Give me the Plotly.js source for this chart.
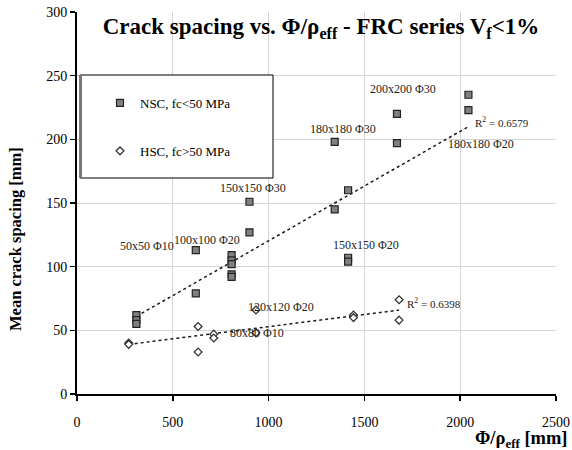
<!DOCTYPE html>
<html>
<head>
<meta charset="utf-8">
<script src="https://cdn.plot.ly/plotly-3.0.1.min.js"></script>
<style>
  html, body { margin: 0; padding: 0; background: #fff; }
  #chart { width: 572px; height: 450px; }
</style>
</head>
<body>
<div id="chart"></div>
<script>
// Normal-strength concrete specimens (fc < 50 MPa)
const nscX = [310, 310, 310, 620, 620, 807, 807, 807, 807, 807, 900, 900, 1345, 1345, 1415, 1415, 1415, 1670, 1670, 2043, 2043];
const nscY = [62, 58, 55, 113, 79, 109, 105, 102, 94, 92, 151, 127, 198, 145, 160, 107, 104, 220, 197, 235, 223];

// High-strength concrete specimens (fc > 50 MPa)
const hscX = [270, 270, 632, 632, 714, 714, 934, 934, 1443, 1443, 1681, 1681];
const hscY = [40, 39, 53, 33, 47, 44, 66, 48, 62, 60, 74, 58];

// Linear trend coefficients (intercept, slope) and their R² values
const nscTrend = { intercept: 34.3, slope: 0.086, r2: '0.6579' };
const hscTrend = { intercept: 33.8, slope: 0.0191, r2: '0.6398' };

// Specimen labels: text and anchor in data space
const specimenLabels = ['50x50 Φ10', '100x100 Φ20', '150x150 Φ30', '180x180 Φ30', '200x200 Φ30',
                        '180x180 Φ20', '150x150 Φ20', '120x120 Φ20', '80x80 Φ10'];
const labelX = [364, 680, 918, 1386, 1702, 2107, 1508, 1064, 937];
const labelY = [116, 121, 161.4, 208.2, 239.4, 196.7, 117, 68.5, 48.1];

const xTicks = [0, 500, 1000, 1500, 2000, 2500];
const yTicks = [0, 50, 100, 150, 200, 250, 300];

const serif = 'Liberation Serif, Times New Roman, serif';

// plot-area geometry in pixels, used to place paper-referenced items
const PL = 77, PR = 556, PT = 12, PB = 394;
const px = v => (v - PL) / (PR - PL);
const py = v => (PB - v) / (PB - PT);

function trendLine(xs, t) {
  const x0 = Math.min(...xs), x1 = Math.max(...xs);
  return { x: [x0, x1], y: [t.intercept + t.slope * x0, t.intercept + t.slope * x1] };
}
const nscLine = trendLine(nscX, nscTrend);
const hscLine = trendLine(hscX, hscTrend);

const traces = [
  {
    x: nscLine.x, y: nscLine.y, mode: 'lines', type: 'scatter', showlegend: false,
    line: { color: '#1a1a1a', width: 1.5, dash: 'dot' }, hoverinfo: 'skip'
  },
  {
    x: hscLine.x, y: hscLine.y, mode: 'lines', type: 'scatter', showlegend: false,
    line: { color: '#1a1a1a', width: 1.5, dash: 'dot' }, hoverinfo: 'skip'
  },
  {
    x: nscX, y: nscY, mode: 'markers', type: 'scatter', name: 'NSC, fc&lt;50 MPa',
    legendgroup: 'nsc',
    marker: { symbol: 'square', size: 7, color: '#808080', line: { color: '#222', width: 1.2 } }
  },
  {
    x: hscX, y: hscY, mode: 'markers', type: 'scatter', name: 'HSC, fc&gt;50 MPa',
    legendgroup: 'hsc',
    marker: { symbol: 'diamond', size: 6, color: '#ffffff', line: { color: '#333', width: 1.3 } }
  }
];

const annotations = specimenLabels.map((t, i) => ({
  x: labelX[i], y: labelY[i], xref: 'x', yref: 'y', text: t, showarrow: false,
  font: { family: serif, size: 12, color: '#222' }
}));

annotations.push(
  {
    x: 2219, y: 213.7, xref: 'x', yref: 'y', showarrow: false,
    text: 'R<sup>2</sup> = ' + nscTrend.r2, font: { family: serif, size: 11, color: '#222' }
  },
  {
    x: 1864, y: 71.1, xref: 'x', yref: 'y', showarrow: false,
    text: 'R<sup>2</sup> = ' + hscTrend.r2, font: { family: serif, size: 11, color: '#222' }
  },
  {
    x: px(15), y: py(239), xref: 'paper', yref: 'paper', showarrow: false,
    text: '<b>Mean crack spacing [mm]</b>', textangle: -90,
    xanchor: 'center', yanchor: 'middle',
    font: { family: serif, size: 16.5, color: '#000' }
  },
  {
    x: px(570), y: py(439), xref: 'paper', yref: 'paper', showarrow: false,
    text: '<b>Φ/ρ<sub>eff</sub> [mm]</b>', xanchor: 'right', yanchor: 'middle',
    font: { family: serif, size: 18.5, color: '#000' }
  }
);

const layout = {
  width: 572, height: 450,
  margin: { l: PL, r: 572 - PR, t: PT, b: 450 - PB },
  paper_bgcolor: '#fff', plot_bgcolor: '#fff',
  title: {
    text: '<b>Crack spacing vs. Φ/ρ<sub>eff</sub> - FRC series V<sub>f</sub>&lt;1%</b>',
    font: { family: serif, size: 23, color: '#000' },
    x: 321 / 572, xanchor: 'center', xref: 'container',
    y: 1 - 26 / 450, yanchor: 'middle', yref: 'container'
  },
  xaxis: {
    range: [0, 2500], tickvals: xTicks, ticktext: xTicks.map(String),
    showgrid: true, gridcolor: '#d4d4d4', gridwidth: 1, zeroline: false,
    showline: true, linecolor: '#000', linewidth: 2,
    ticks: 'outside', ticklen: 5, tickwidth: 1.5, tickcolor: '#000',
    ticklabelstandoff: 9,
    tickfont: { family: serif, size: 14, color: '#000' }
  },
  yaxis: {
    range: [0, 300], tickvals: yTicks, ticktext: yTicks.map(String),
    showgrid: true, gridcolor: '#d4d4d4', gridwidth: 1, zeroline: false,
    showline: true, linecolor: '#000', linewidth: 2,
    ticks: 'outside', ticklen: 5, tickwidth: 1.5, tickcolor: '#000',
    tickfont: { family: serif, size: 14, color: '#000' }
  },
  showlegend: true,
  legend: {
    x: px(100), xanchor: 'left',
    y: py(88), yanchor: 'top',
    bgcolor: 'rgba(0,0,0,0)', borderwidth: 0,
    tracegroupgap: 28, traceorder: 'grouped',
    font: { family: serif, size: 13, color: '#000' }
  },
  shapes: [
    {
      type: 'rect', xref: 'paper', yref: 'paper',
      x0: px(80), x1: px(273), y0: py(178), y1: py(75),
      line: { color: '#000', width: 1 }, fillcolor: '#fff', layer: 'above'
    },
    {
      type: 'line', xref: 'paper', yref: 'paper',
      x0: px(81), x1: px(81), y0: py(178), y1: py(75),
      line: { color: '#777', width: 2 }, layer: 'above'
    }
  ],
  annotations: annotations
};

Plotly.newPlot('chart', traces, layout, { displayModeBar: false, staticPlot: true });
</script>
</body>
</html>
